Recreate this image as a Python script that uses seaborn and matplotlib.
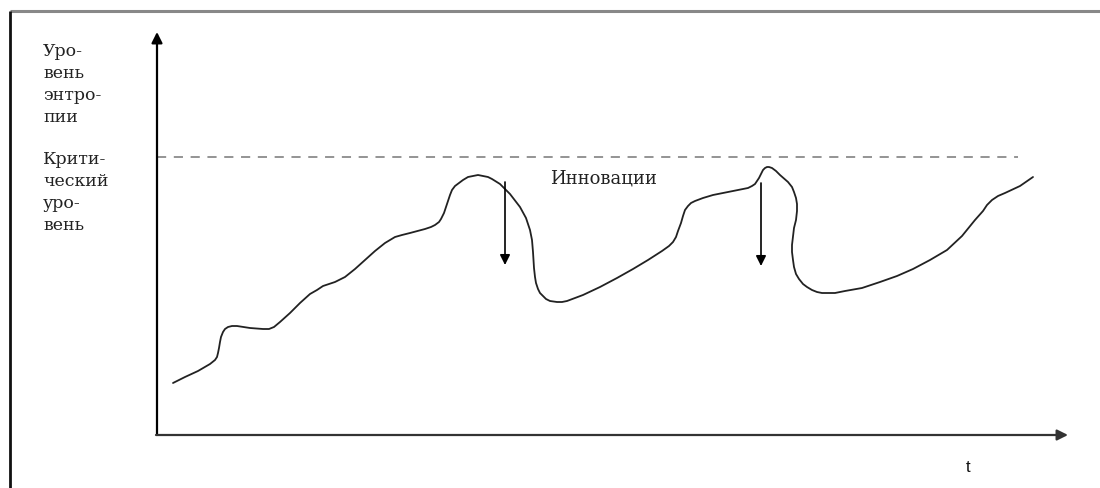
import numpy as np
import pandas as pd
import matplotlib.pyplot as plt
import seaborn as sns

# entropy curve (t - time, level - entropy level)
t_vals = [16, 28, 41, 53, 58, 60, 61, 62, 63, 64, 66, 68, 71, 75, 80, 93, 106, 112, 117,
          123, 133, 143, 153, 160, 166, 172, 178, 188, 198, 208, 218, 223, 228, 233, 238,
          245, 253, 268, 274, 278, 282, 284, 287, 289, 291, 293, 295, 298, 302, 306, 311,
          316, 321, 326, 331, 335, 343, 353, 363, 369, 373, 375, 376, 377, 378, 379, 381,
          383, 386, 389, 393, 400, 405, 410, 426, 443, 460, 476, 491, 505, 512, 516, 519,
          521, 524, 526, 528, 531, 534, 538, 546, 556, 576, 591, 595, 598, 600, 602, 604,
          606, 608, 610, 612, 615, 619, 623, 631, 635, 637, 639, 640, 640, 639, 637, 636,
          635, 635, 636, 637, 639, 642, 646, 650, 655, 660, 665, 670, 678, 688, 705, 723,
          740, 756, 773, 790, 805, 818, 826, 830, 835, 841, 848, 863, 876]
level_vals = [52, 58, 64, 71, 75, 78, 82, 87, 93, 98, 103, 106, 108, 109, 109, 107, 106,
              106, 108, 113, 122, 132, 141, 145, 149, 151, 153, 158, 166, 175, 184, 188,
              192, 195, 198, 200, 202, 206, 208, 210, 213, 216, 222, 228, 234, 240, 245,
              249, 252, 255, 258, 259, 260, 259, 258, 256, 251, 241, 228, 217, 205, 195,
              183, 167, 158, 152, 146, 142, 139, 136, 134, 133, 133, 134, 140, 148, 157,
              166, 175, 184, 189, 193, 198, 204, 212, 219, 225, 229, 232, 234, 237, 240,
              244, 247, 249, 251, 254, 257, 261, 265, 267, 268, 268, 267, 264, 260, 253,
              248, 243, 237, 231, 224, 215, 207, 198, 190, 183, 175, 168, 161, 156, 151,
              148, 145, 143, 142, 142, 142, 144, 147, 153, 159, 166, 175, 185, 199, 215,
              224, 230, 235, 239, 242, 249, 258]

critical_level = 278
critical_end = 861
# innovation arrows: (t, from level, to level)
innov_t = [348, 604]
innov_from = [253, 252]
innov_to = [170, 169]

y_label_lines = ["Уро-", "вень", "энтро-", "пии"]
crit_label_lines = ["Крити-", "ческий", "уро-", "вень"]
innov_label = "Инновации"
x_label = "t"

sns.set_style("white")
plt.rcParams['font.family'] = ['DejaVu Serif']

fig = plt.figure(figsize=(11, 4.88), dpi=100)
ax = fig.add_axes([0, 0, 1, 1])
ax.set_xlim(-157, 943)
ax.set_ylim(-53, 435)
ax.axis('off')

df = pd.DataFrame({'t': t_vals, 'level': level_vals})
sns.lineplot(data=df, x='t', y='level', sort=False, estimator=None,
             color='#222222', linewidth=1.3, ax=ax)

# outer frame (top and left edges only)
ax.plot([-147, 943], [424, 424], color='#888888', lw=2.2, solid_capstyle='butt')
ax.plot([-147, -147], [424, -53], color='#111111', lw=2, solid_capstyle='butt')

# axes arrows
ax.annotate('', xy=(0, 403), xytext=(0, 0),
            arrowprops=dict(arrowstyle='-|>', color='black', lw=1.6,
                            mutation_scale=16, shrinkA=0, shrinkB=0))
ax.annotate('', xy=(911, 0), xytext=(-1, 0),
            arrowprops=dict(arrowstyle='-|>', color='#333333', lw=1.6,
                            mutation_scale=16, shrinkA=0, shrinkB=0))

# critical level
ax.plot([0, critical_end], [critical_level, critical_level], color='#777777',
        lw=1.1, dashes=(6, 5))

# innovation arrows
for x0, y0, y1 in zip(innov_t, innov_from, innov_to):
    ax.annotate('', xy=(x0, y1), xytext=(x0, y0),
                arrowprops=dict(arrowstyle='-|>', color='black', lw=1.2,
                                mutation_scale=15, shrinkA=0, shrinkB=0))

# labels
for i, s in enumerate(y_label_lines):
    ax.text(-114, 384 - i * 22, s, fontsize=12.5, va='center', ha='left', color='#222222')
for i, s in enumerate(crit_label_lines):
    ax.text(-114, 276 - i * 22, s, fontsize=12.5, va='center', ha='left', color='#222222')
ax.text(393, 257, innov_label, fontsize=13, va='center', ha='left', color='#222222')
ax.text(811, -33, x_label, fontsize=12, va='center', ha='center', color='#111111',
        family=['Liberation Sans', 'DejaVu Sans'])

plt.savefig('out.png', dpi=100)
plt.close()
